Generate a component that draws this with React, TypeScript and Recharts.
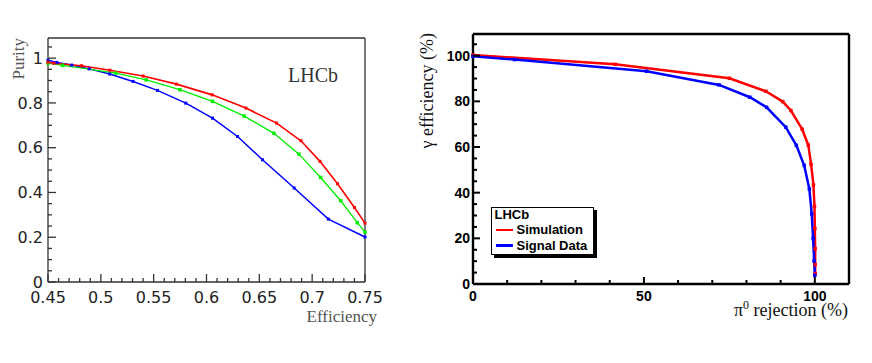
import React from 'react';
import { LineChart, Line, XAxis, YAxis, Legend } from 'recharts';

// ---------- Left panel: Purity vs Efficiency ----------
const effRed = [0.45, 0.4555, 0.4818, 0.5085, 0.54, 0.5716, 0.6054, 0.6373, 0.6663, 0.6894, 0.7074, 0.724, 0.74, 0.75];
const purRed = [0.982, 0.977, 0.966, 0.946, 0.92, 0.884, 0.836, 0.777, 0.71, 0.631, 0.539, 0.439, 0.333, 0.263];

const effGreen = [0.45, 0.4638, 0.5142, 0.543, 0.5747, 0.6057, 0.6357, 0.6638, 0.6875, 0.708, 0.727, 0.7427, 0.75];
const purGreen = [0.978, 0.968, 0.933, 0.903, 0.859, 0.807, 0.741, 0.664, 0.571, 0.467, 0.363, 0.265, 0.223];

const effBlue = [0.45, 0.4584, 0.4724, 0.489, 0.5083, 0.5305, 0.5536, 0.5804, 0.6057, 0.6294, 0.653, 0.683, 0.7153, 0.75];
const purBlue = [0.991, 0.981, 0.969, 0.952, 0.929, 0.896, 0.856, 0.799, 0.732, 0.65, 0.546, 0.42, 0.281, 0.201];

const leftXMajor = [0.45, 0.5, 0.55, 0.6, 0.65, 0.7, 0.75];
const leftXLabels = ['0.45', '0.5', '0.55', '0.6', '0.65', '0.7', '0.75'];
const leftYMajor = [0, 0.2, 0.4, 0.6, 0.8, 1];
const leftYLabels = ['0', '0.2', '0.4', '0.6', '0.8', '1'];

// ---------- Right panel: gamma efficiency vs pi0 rejection ----------
const rejSim = [0, 41.6, 75, 85.7, 90.6, 93, 96.3, 98.1, 98.9, 99.6, 99.9, 100, 100.1, 100.1, 100.1];
const gamSim = [100.3, 96.2, 90.1, 84.4, 79.9, 76, 67.8, 60.8, 52.4, 43.4, 34, 24.3, 15.5, 8.5, 4.5];

const rejSig = [0, 12.2, 50.8, 72, 81, 85.9, 91.5, 94.6, 96.9, 98.4, 99.1, 99.5, 99.8, 100];
const gamSig = [99.7, 98.3, 93.2, 87.2, 81.8, 77.4, 68.7, 60.7, 51.9, 41.6, 30.7, 19.9, 10.1, 3.8];

const rightXMajor = [0, 50, 100];
const rightXLabels = ['0', '50', '100'];
const rightYMajor = [0, 20, 40, 60, 80, 100];
const rightYLabels = ['0', '20', '40', '60', '80', '100'];

const seriesNames = ['Simulation', 'Signal Data'];
const legendTitle = 'LHCb';

const zip = (xs: number[], ys: number[]) => xs.map((x, i) => ({ x, y: ys[i] }));
const steps = (a: number, b: number, s: number) => {
  const out: number[] = [];
  const n = Math.round((b - a) / s);
  for (let i = 0; i <= n; i++) out.push(+(a + i * s).toFixed(6));
  return out;
};

const leftXTicks = steps(0.45, 0.75, 0.01);
const leftYTicks = steps(0, 1.05, 0.05);
const rightXTicks = steps(0, 110, 10);
const rightYTicks = steps(0, 105, 5);

type Side = 'left' | 'right' | 'top' | 'bottom';
interface TickCfg {
  side: Side;
  majors: number[];
  labels?: string[];
  major: number;
  minor: number;
  stroke: string;
  sw: number;
  gap?: number;
  font?: React.CSSProperties;
}

const makeTick = (cfg: TickCfg) => (props: any) => {
  const { x, y, payload } = props;
  const v = payload.value;
  const idx = cfg.majors.findIndex((m) => Math.abs(m - v) < 1e-6);
  const len = idx >= 0 ? cfg.major : cfg.minor;
  let x2 = x;
  let y2 = y;
  if (cfg.side === 'left') x2 = x + len;
  if (cfg.side === 'right') x2 = x - len;
  if (cfg.side === 'bottom') y2 = y - len;
  if (cfg.side === 'top') y2 = y + len;
  let label: React.ReactNode = null;
  if (cfg.labels && idx >= 0) {
    if (cfg.side === 'left') {
      label = (
        <text x={x - (cfg.gap || 0)} y={y} dy="0.36em" textAnchor="end" style={cfg.font}>
          {cfg.labels[idx]}
        </text>
      );
    } else if (cfg.side === 'bottom') {
      label = (
        <text x={x} y={y + (cfg.gap || 0)} textAnchor="middle" style={cfg.font}>
          {cfg.labels[idx]}
        </text>
      );
    }
  }
  return (
    <g>
      <line x1={x} y1={y} x2={x2} y2={y2} stroke={cfg.stroke} strokeWidth={cfg.sw} />
      {label}
    </g>
  );
};

const squareDot = (color: string, s: number) => (p: any) => {
  if (p.cx == null || p.cy == null) return <g key={p.index} />;
  return <rect key={p.index} x={p.cx - s / 2} y={p.cy - s / 2} width={s} height={s} fill={color} />;
};

const leftFont: React.CSSProperties = { fontFamily: '"DejaVu Sans", Verdana, sans-serif', fontSize: 16, fill: '#222' };
const rightFont: React.CSSProperties = { fontFamily: '"Liberation Sans", Arial, sans-serif', fontSize: 14, fontWeight: 'bold', fill: '#000' };
const serif = '"Liberation Serif", "Times New Roman", serif';

const LC = '#333';
const LW = 1.3;
const RC = '#000';
const RW = 2.4;

const LegendBox = (props: any) => {
  const raw = props.payload || [];
  const payload = [...raw].sort((a: any, b: any) => seriesNames.indexOf(a.value) - seriesNames.indexOf(b.value));
  return (
    <div
      style={{
        width: 103,
        height: 48,
        border: '1.5px solid #000',
        boxShadow: '3px 3px 0 #000',
        background: '#fff',
        boxSizing: 'border-box',
        position: 'relative',
        fontFamily: '"Liberation Sans", Arial, sans-serif',
        fontWeight: 'bold',
        fontSize: 13,
        color: '#000',
      }}
    >
      <div style={{ position: 'absolute', left: 2.5, top: -1.5, lineHeight: '16px' }}>{legendTitle}</div>
      {payload.map((p: any, i: number) => (
        <div
          key={i}
          style={{ position: 'absolute', left: 3.5, top: 13.8 + i * 15.7, height: 16, display: 'flex', alignItems: 'center', whiteSpace: 'nowrap' }}
        >
          <span style={{ display: 'inline-block', width: 17, height: 2.5, background: p.color, marginRight: 4 }} />
          <span>{p.value}</span>
        </div>
      ))}
    </div>
  );
};

export default function App() {
  return (
    <div style={{ position: 'absolute', left: 0, top: 0, width: 872, height: 363, background: '#fff', overflow: 'hidden' }}>
      <div style={{ position: 'absolute', left: 0, top: 0 }}>
        <LineChart width={400} height={363} margin={{ top: 37, right: 34, bottom: 51, left: 0 }}>
          <XAxis
            xAxisId="b"
            type="number"
            dataKey="x"
            domain={[0.45, 0.75]}
            ticks={leftXTicks}
            interval={0}
            height={30}
            tickSize={0}
            tickMargin={0}
            tickLine={false}
            axisLine={{ stroke: LC, strokeWidth: LW }}
            tick={makeTick({ side: 'bottom', majors: leftXMajor, labels: leftXLabels, major: 8, minor: 4, stroke: LC, sw: LW, gap: 21, font: leftFont })}
          />
          <XAxis
            xAxisId="t"
            orientation="top"
            type="number"
            dataKey="x"
            domain={[0.45, 0.75]}
            ticks={leftXTicks}
            interval={0}
            height={1}
            tickSize={0}
            tickMargin={0}
            tickLine={false}
            axisLine={{ stroke: LC, strokeWidth: LW }}
            tick={makeTick({ side: 'top', majors: leftXMajor, major: 8, minor: 4, stroke: LC, sw: LW })}
          />
          <YAxis
            yAxisId="l"
            type="number"
            domain={[0, 1.09]}
            ticks={leftYTicks}
            interval={0}
            width={48}
            tickSize={0}
            tickMargin={0}
            tickLine={false}
            axisLine={{ stroke: LC, strokeWidth: LW }}
            tick={makeTick({ side: 'left', majors: leftYMajor, labels: leftYLabels, major: 8, minor: 4, stroke: LC, sw: LW, gap: 5, font: leftFont })}
          />
          <YAxis
            yAxisId="r"
            orientation="right"
            type="number"
            domain={[0, 1.09]}
            ticks={leftYTicks}
            interval={0}
            width={1}
            tickSize={0}
            tickMargin={0}
            tickLine={false}
            axisLine={{ stroke: LC, strokeWidth: LW }}
            tick={makeTick({ side: 'right', majors: leftYMajor, major: 8, minor: 4, stroke: LC, sw: LW })}
          />
          <Line xAxisId="b" yAxisId="l" data={zip(effBlue, purBlue)} dataKey="y" type="linear" stroke="#0000ff" strokeWidth={1.5} dot={squareDot('#0000ff', 3)} activeDot={false} isAnimationActive={false} />
          <Line xAxisId="b" yAxisId="l" data={zip(effGreen, purGreen)} dataKey="y" type="linear" stroke="#00ee00" strokeWidth={1.3} dot={squareDot('#00ee00', 3.5)} activeDot={false} isAnimationActive={false} />
          <Line xAxisId="b" yAxisId="l" data={zip(effRed, purRed)} dataKey="y" type="linear" stroke="#ff0000" strokeWidth={1.6} dot={squareDot('#ff0000', 3)} activeDot={false} isAnimationActive={false} />
        </LineChart>
      </div>

      <div style={{ position: 'absolute', left: 420, top: 0 }}>
        <LineChart width={452} height={363} margin={{ top: 33, right: 22, bottom: 49, left: 0 }}>
          <XAxis
            xAxisId="b"
            type="number"
            dataKey="x"
            domain={[0, 110]}
            ticks={rightXTicks}
            interval={0}
            height={30}
            tickSize={0}
            tickMargin={0}
            tickLine={false}
            axisLine={{ stroke: RC, strokeWidth: RW }}
            tick={makeTick({ side: 'bottom', majors: rightXMajor, labels: rightXLabels, major: 7, minor: 4, stroke: RC, sw: 2, gap: 17, font: rightFont })}
          />
          <XAxis
            xAxisId="t"
            orientation="top"
            type="number"
            dataKey="x"
            domain={[0, 110]}
            ticks={rightXTicks}
            interval={0}
            height={1}
            tickSize={0}
            tickMargin={0}
            tickLine={false}
            axisLine={{ stroke: RC, strokeWidth: RW }}
            tick={makeTick({ side: 'top', majors: rightXMajor, major: 7, minor: 4, stroke: RC, sw: 2 })}
          />
          <YAxis
            yAxisId="l"
            type="number"
            domain={[0, 109.5]}
            ticks={rightYTicks}
            interval={0}
            width={53}
            tickSize={0}
            tickMargin={0}
            tickLine={false}
            axisLine={{ stroke: RC, strokeWidth: RW }}
            tick={makeTick({ side: 'left', majors: rightYMajor, labels: rightYLabels, major: 7, minor: 4, stroke: RC, sw: 2, gap: 3, font: rightFont })}
          />
          <YAxis
            yAxisId="r"
            orientation="right"
            type="number"
            domain={[0, 109.5]}
            ticks={rightYTicks}
            interval={0}
            width={1}
            tickSize={0}
            tickMargin={0}
            tickLine={false}
            axisLine={{ stroke: RC, strokeWidth: RW }}
            tick={makeTick({ side: 'right', majors: rightYMajor, major: 7, minor: 4, stroke: RC, sw: 2 })}
          />
          <Legend
            layout="horizontal"
            align="center"
            verticalAlign="middle"
            wrapperStyle={{ left: 71, top: 207, width: 'auto', height: 'auto' }}
            content={<LegendBox />}
          />
          <Line name={seriesNames[0]} xAxisId="b" yAxisId="l" data={zip(rejSim, gamSim)} dataKey="y" type="linear" stroke="#ff0000" strokeWidth={2.5} dot={squareDot('#ff0000', 3.5)} activeDot={false} isAnimationActive={false} />
          <Line name={seriesNames[1]} xAxisId="b" yAxisId="l" data={zip(rejSig, gamSig)} dataKey="y" type="linear" stroke="#0000ff" strokeWidth={2.5} dot={squareDot('#0000ff', 3.5)} activeDot={false} isAnimationActive={false} />
        </LineChart>
      </div>

      <svg width={872} height={363} style={{ position: 'absolute', left: 0, top: 0, pointerEvents: 'none' }}>
        <text transform="translate(24,38) rotate(-90)" textAnchor="end" style={{ fontFamily: serif, fontSize: 17, fill: '#555' }}>
          Purity
        </text>
        <text x={377} y={322} textAnchor="end" style={{ fontFamily: serif, fontSize: 17, fill: '#555' }}>
          Efficiency
        </text>
        <text x={288} y={81.5} style={{ fontFamily: serif, fontSize: 20, fill: '#333' }}>
          LHCb
        </text>
        <text transform="translate(433,33) rotate(-90)" textAnchor="end" style={{ fontFamily: serif, fontSize: 18, fill: '#111' }}>
          γ efficiency (%)
        </text>
        <text x={848} y={315.5} textAnchor="end" style={{ fontFamily: serif, fontSize: 18, fill: '#111' }}>
          π<tspan dy={-7} fontSize={12}>0</tspan>
          <tspan dy={7}> rejection (%)</tspan>
        </text>
      </svg>
    </div>
  );
}
